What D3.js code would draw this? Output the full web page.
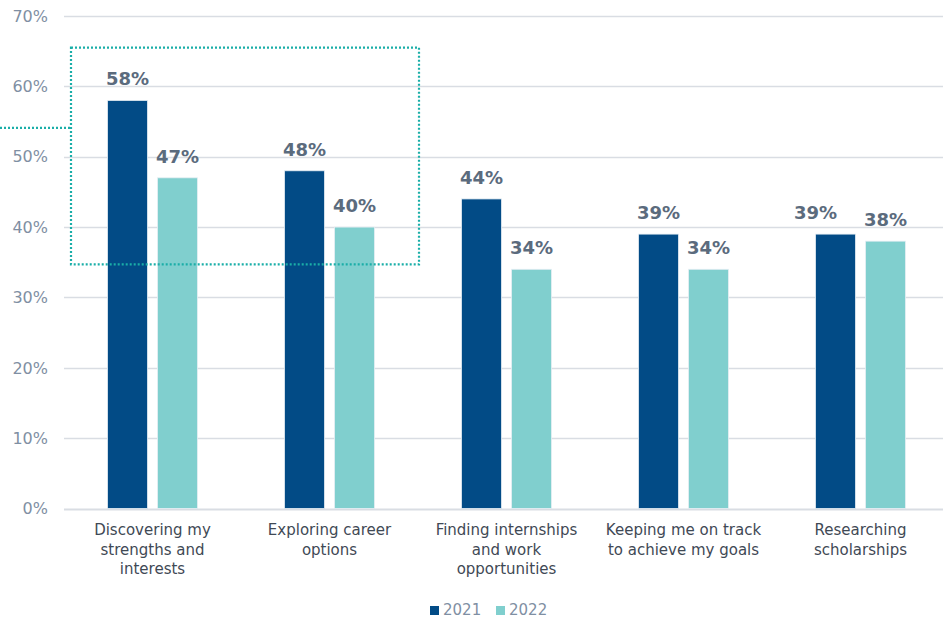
<!DOCTYPE html>
<html>
<head>
<meta charset="utf-8">
<script src="https://cdn.jsdelivr.net/npm/d3@7"></script>
<style>
  body { margin: 0; background: #fff; }
  text { font-family: 'DejaVu Sans', Verdana, sans-serif; }
</style>
</head>
<body>
<div id="chart"></div>
<script>
const categories = [
  ['Discovering my', 'strengths and', 'interests'],
  ['Exploring career', 'options'],
  ['Finding internships', 'and work', 'opportunities'],
  ['Keeping me on track', 'to achieve my goals'],
  ['Researching', 'scholarships']
]
const years = ['2021', '2022']
const values2021 = [58, 48, 44, 39, 39]
const values2022 = [47, 40, 34, 34, 38]
const yTicks = [0, 10, 20, 30, 40, 50, 60, 70]
// small nudges so overlapping labels stay readable (last group)
const labelShift2021 = [0, 0, 0, 0, -20]

const COLORS = { '2021': '#024b86', '2022': '#80cfce' }

const dimensions = {
  width: 943,
  height: 619,
  margin: { top: 16, right: 0, bottom: 111, left: 64 }
}

const svg = d3.select('#chart').append('svg')
  .attr('width', dimensions.width)
  .attr('height', dimensions.height)

const keys = categories.map((c, i) => i)

const xScale = d3.scaleBand()
  .domain(keys)
  .range([dimensions.margin.left, dimensions.margin.left + 177 * 5])

const yScale = d3.scaleLinear()
  .domain([0, 70])
  .range([dimensions.height - dimensions.margin.bottom + 0.5, dimensions.margin.top])

// gridlines + y labels
const yAxis = svg.append('g')
yAxis.selectAll('line')
  .data(yTicks)
  .join('line')
  .attr('x1', dimensions.margin.left)
  .attr('x2', dimensions.width)
  .attr('y1', d => Math.round(yScale(d)) + 0.5)
  .attr('y2', d => Math.round(yScale(d)) + 0.5)
  .attr('stroke', '#d9dde3')
  .attr('stroke-width', d => d === 0 ? 2 : 1.5)
yAxis.selectAll('text')
  .data(yTicks)
  .join('text')
  .attr('x', 48)
  .attr('y', d => yScale(d))
  .attr('dy', '0.36em')
  .attr('text-anchor', 'end')
  .attr('font-size', 16)
  .attr('fill', '#7f8fa3')
  .text(d => d + '%')

// bars
const barW = 40
const gap = 10
const series = [
  { year: '2021', values: values2021, off: -gap / 2 - barW },
  { year: '2022', values: values2022, off: gap / 2 }
]

const bars = svg.append('g')
series.forEach(s => {
  bars.selectAll('rect.b' + s.year)
    .data(s.values)
    .join('rect')
    .attr('class', 'b' + s.year)
    .attr('x', (d, i) => xScale(i) + xScale.bandwidth() / 2 + s.off)
    .attr('width', barW)
    .attr('y', d => yScale(d))
    .attr('height', d => yScale(0) - yScale(d))
    .attr('fill', COLORS[s.year])
    .attr('stroke', '#e6eef4')
    .attr('stroke-width', 0.8)

  bars.selectAll('text.l' + s.year)
    .data(s.values)
    .join('text')
    .attr('class', 'l' + s.year)
    .attr('x', (d, i) => xScale(i) + xScale.bandwidth() / 2 + s.off + barW / 2 + (s.year === '2021' ? labelShift2021[i] : 0))
    .attr('y', d => yScale(d) - 15)
    .attr('text-anchor', 'middle')
    .attr('font-size', 18)
    .attr('font-weight', 'bold')
    .attr('fill', '#5b6b7d')
    .text(d => d + '%')
})

// category labels
const catG = svg.append('g')
categories.forEach((lines, i) => {
  const t = catG.append('text')
    .attr('text-anchor', 'middle')
    .attr('font-size', 15)
    .attr('fill', '#3f4955')
  lines.forEach((ln, j) => {
    t.append('tspan')
      .attr('x', xScale(i) + xScale.bandwidth() / 2)
      .attr('y', 535 + j * 19.5)
      .text(ln)
  })
})

// highlight box around first two groups
const boxX0 = xScale(0) + 7
const boxX1 = xScale(1) + xScale.bandwidth() + 1
const boxY0 = yScale(65.5)
const boxY1 = yScale(34.7)
const annot = svg.append('g')
  .attr('fill', 'none')
  .attr('stroke', '#1aaea8')
  .attr('stroke-width', 2.2)
  .attr('stroke-dasharray', '2,2')
annot.append('rect')
  .attr('x', boxX0)
  .attr('y', boxY0)
  .attr('width', boxX1 - boxX0)
  .attr('height', boxY1 - boxY0)
annot.append('line')
  .attr('x1', 0)
  .attr('x2', boxX0)
  .attr('y1', yScale(54.1))
  .attr('y2', yScale(54.1))

// legend
const legend = svg.append('g')
const legendItems = [
  { year: years[0], x: 430 },
  { year: years[1], x: 496 }
]
legend.selectAll('rect')
  .data(legendItems)
  .join('rect')
  .attr('x', d => d.x)
  .attr('y', 606)
  .attr('width', 9)
  .attr('height', 9)
  .attr('fill', d => COLORS[d.year])
legend.selectAll('text')
  .data(legendItems)
  .join('text')
  .attr('x', d => d.x + 13)
  .attr('y', 610)
  .attr('dy', '0.35em')
  .attr('font-size', 15)
  .attr('fill', '#7f8fa3')
  .text(d => d.year)
</script>
</body>
</html>
